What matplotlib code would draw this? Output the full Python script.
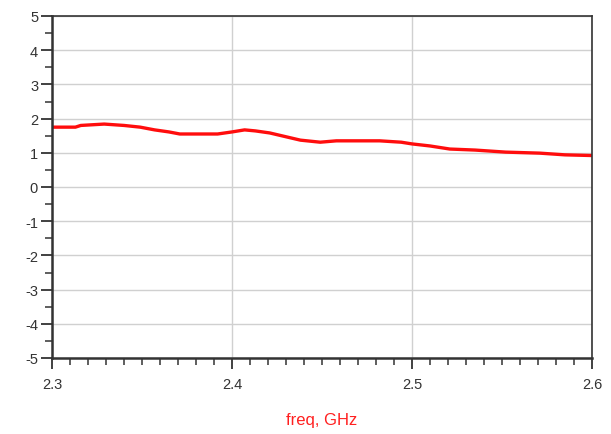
import matplotlib
matplotlib.use("Agg")
import matplotlib.pyplot as plt
from matplotlib.ticker import MultipleLocator, FormatStrFormatter

freq = [2.300, 2.313, 2.316, 2.329, 2.340, 2.349, 2.357, 2.365, 2.371, 2.392, 2.400,
        2.407, 2.413, 2.421, 2.438, 2.449, 2.458, 2.482, 2.494, 2.500, 2.510, 2.521,
        2.535, 2.552, 2.571, 2.585, 2.600]
vals = [1.75, 1.75, 1.80, 1.84, 1.80, 1.75, 1.67, 1.61, 1.55, 1.55, 1.61,
        1.67, 1.64, 1.58, 1.37, 1.31, 1.35, 1.35, 1.31, 1.26, 1.20, 1.11,
        1.08, 1.02, 0.99, 0.94, 0.92]

plt.rcParams['font.family'] = ['Liberation Sans', 'DejaVu Sans']
fig = plt.figure(figsize=(6.11, 4.35), dpi=100)
ax = fig.add_axes([52/611, 1-359/435, (592-52)/611, (359-17)/435])

ax.plot(freq, vals, color='#ff0d0d', lw=2.4, solid_capstyle='butt')
ax.set_xlim(2.3, 2.6)
ax.set_ylim(-5, 5)
ax.xaxis.set_major_locator(MultipleLocator(0.1))
ax.xaxis.set_minor_locator(MultipleLocator(0.01))
ax.yaxis.set_major_locator(MultipleLocator(1))
ax.yaxis.set_minor_locator(MultipleLocator(0.5))
ax.xaxis.set_major_formatter(FormatStrFormatter('%.1f'))
ax.yaxis.set_major_formatter(FormatStrFormatter('%d'))
ax.grid(True, which='major', color='#d0d0d0', lw=1.0)
ax.set_axisbelow(True)
for s in ax.spines.values():
    s.set_color('#333333')
    s.set_linewidth(1.2)
ax.spines['left'].set_linewidth(1.8)
ax.spines['bottom'].set_linewidth(1.8)
ax.tick_params(which='major', direction='out', length=8, width=1.3, color='#333333',
               labelsize=10.5, labelcolor='#333333', pad=2)
ax.tick_params(which='minor', direction='out', length=5, width=1.1, color='#333333')
ax.tick_params(axis='x', which='major', pad=6)
ax.set_xlabel('freq, GHz', color='#ff2020', fontsize=12, labelpad=15)

fig.savefig('out.png', dpi=100)
